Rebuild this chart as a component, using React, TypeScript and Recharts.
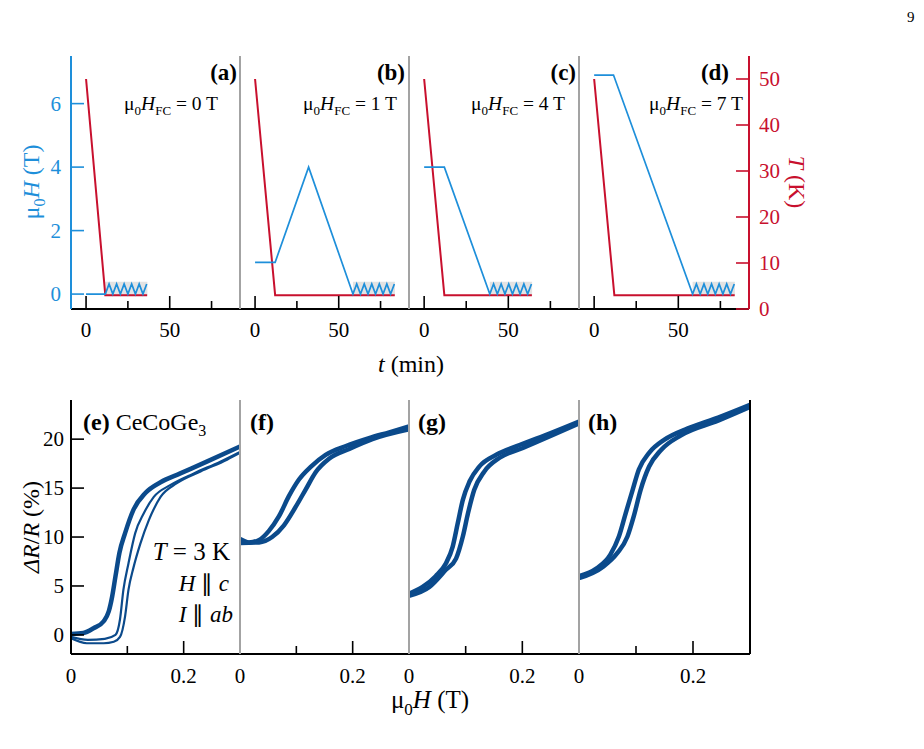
import { LineChart, Line, XAxis, YAxis, ReferenceArea } from "recharts";

const serif = "'Liberation Serif', 'Times New Roman', serif";
const BLUE = "#1e8fda";
const RED = "#c8102e";
const NAVY = "#0b4a8b";
const GRAY = "#a3a3a3";

// ---------- top row: field / temperature protocols ----------
const timeTicks = [0, 25, 50, 75];
const fieldTicks = [0, 2, 4, 6];
const tempTicks = [0, 10, 20, 30, 40, 50];
const topLabels = ["(a)", "(b)", "(c)", "(d)"];
const coolingFields = ["0", "1", "4", "7"];

const fieldA = [
  { t: 0, H: 0 },
  { t: 11.5, H: 0 },
];
const fieldB = [
  { t: 0, H: 1 },
  { t: 12, H: 1 },
  { t: 32, H: 4 },
  { t: 58.5, H: 0 },
];
const fieldC = [
  { t: 0, H: 4 },
  { t: 12, H: 4 },
  { t: 39, H: 0 },
];
const fieldD = [
  { t: 0, H: 6.9 },
  { t: 11.5, H: 6.9 },
  { t: 58.5, H: 0 },
];

const zigA = [
  { t: 11.5, H: 0 }, { t: 13.75, H: 0.32 }, { t: 16, H: 0 }, { t: 18.25, H: 0.32 },
  { t: 20.5, H: 0 }, { t: 22.75, H: 0.32 }, { t: 25, H: 0 }, { t: 27.25, H: 0.32 },
  { t: 29.5, H: 0 }, { t: 31.75, H: 0.32 }, { t: 34, H: 0 }, { t: 36.25, H: 0.32 },
];
const zigB = [
  { t: 58.5, H: 0 }, { t: 60.75, H: 0.32 }, { t: 63, H: 0 }, { t: 65.25, H: 0.32 },
  { t: 67.5, H: 0 }, { t: 69.75, H: 0.32 }, { t: 72, H: 0 }, { t: 74.25, H: 0.32 },
  { t: 76.5, H: 0 }, { t: 78.75, H: 0.32 }, { t: 81, H: 0 }, { t: 83.25, H: 0.32 },
];
const zigC = [
  { t: 39, H: 0 }, { t: 41.25, H: 0.32 }, { t: 43.5, H: 0 }, { t: 45.75, H: 0.32 },
  { t: 48, H: 0 }, { t: 50.25, H: 0.32 }, { t: 52.5, H: 0 }, { t: 54.75, H: 0.32 },
  { t: 57, H: 0 }, { t: 59.25, H: 0.32 }, { t: 61.5, H: 0 }, { t: 63.75, H: 0.32 },
];
const zigD = [
  { t: 58.5, H: 0 }, { t: 60.75, H: 0.32 }, { t: 63, H: 0 }, { t: 65.25, H: 0.32 },
  { t: 67.5, H: 0 }, { t: 69.75, H: 0.32 }, { t: 72, H: 0 }, { t: 74.25, H: 0.32 },
  { t: 76.5, H: 0 }, { t: 78.75, H: 0.32 }, { t: 81, H: 0 }, { t: 83.25, H: 0.32 },
];

const tempA = [
  { t: 0, T: 50 },
  { t: 11.5, T: 3 },
  { t: 36.5, T: 3 },
];
const tempB = [
  { t: 0, T: 50 },
  { t: 12, T: 3 },
  { t: 83.5, T: 3 },
];
const tempC = [
  { t: 0, T: 50 },
  { t: 12, T: 3 },
  { t: 64, T: 3 },
];
const tempD = [
  { t: 0, T: 50 },
  { t: 12, T: 3 },
  { t: 83.5, T: 3 },
];

// ---------- bottom row: magnetoresistance loops ----------
const fieldTicksB = [0, 0.1, 0.2];
const mrTicks = [0, 5, 10, 15, 20];
const bottomLabels = ["(e)", "(f)", "(g)", "(h)"];

const downE = [
  { B: 0, R: 0.1 }, { B: 0.022, R: 0.2 }, { B: 0.04, R: 0.68 }, { B: 0.058, R: 1.4 },
  { B: 0.067, R: 2.4 }, { B: 0.073, R: 3.9 }, { B: 0.079, R: 6.0 }, { B: 0.086, R: 8.4 },
  { B: 0.096, R: 10.4 }, { B: 0.111, R: 12.8 }, { B: 0.132, R: 14.5 }, { B: 0.159, R: 15.6 },
  { B: 0.194, R: 16.5 }, { B: 0.241, R: 17.7 }, { B: 0.3, R: 19.25 },
];
const upE1 = [
  { B: 0, R: -0.2 }, { B: 0.03, R: -0.5 }, { B: 0.06, R: -0.4 }, { B: 0.079, R: 0.0 },
  { B: 0.087, R: 1.6 }, { B: 0.093, R: 4.6 }, { B: 0.102, R: 7.3 }, { B: 0.114, R: 10.4 },
  { B: 0.129, R: 12.4 }, { B: 0.147, R: 14.1 }, { B: 0.176, R: 15.3 }, { B: 0.218, R: 16.5 },
  { B: 0.265, R: 17.7 }, { B: 0.3, R: 18.7 },
];
const upE2 = [
  { B: 0, R: -0.35 }, { B: 0.028, R: -0.85 }, { B: 0.058, R: -0.85 }, { B: 0.076, R: -0.7 },
  { B: 0.087, R: -0.2 }, { B: 0.096, R: 1.9 }, { B: 0.102, R: 4.6 }, { B: 0.111, R: 6.9 },
  { B: 0.123, R: 9.3 }, { B: 0.138, R: 11.7 }, { B: 0.159, R: 14.1 }, { B: 0.188, R: 15.5 },
  { B: 0.23, R: 16.7 }, { B: 0.277, R: 17.9 }, { B: 0.3, R: 18.6 },
];

const downF = [
  { B: 0, R: 9.8 }, { B: 0.016, R: 9.45 }, { B: 0.034, R: 9.7 }, { B: 0.051, R: 10.6 },
  { B: 0.069, R: 12.1 }, { B: 0.087, R: 14.2 }, { B: 0.105, R: 15.9 }, { B: 0.126, R: 17.2 },
  { B: 0.152, R: 18.4 }, { B: 0.188, R: 19.3 }, { B: 0.229, R: 20.1 }, { B: 0.265, R: 20.7 },
  { B: 0.3, R: 21.3 },
];
const upF = [
  { B: 0, R: 9.4 }, { B: 0.034, R: 9.45 }, { B: 0.057, R: 10.0 }, { B: 0.078, R: 11.2 },
  { B: 0.099, R: 13.1 }, { B: 0.117, R: 14.9 }, { B: 0.134, R: 16.6 }, { B: 0.158, R: 18.0 },
  { B: 0.194, R: 19.0 }, { B: 0.235, R: 20.0 }, { B: 0.3, R: 21.0 },
];

const downG = [
  { B: 0, R: 4.2 }, { B: 0.024, R: 4.9 }, { B: 0.047, R: 6.0 }, { B: 0.065, R: 7.3 },
  { B: 0.077, R: 9.0 }, { B: 0.086, R: 11.4 }, { B: 0.095, R: 13.8 }, { B: 0.107, R: 15.7 },
  { B: 0.124, R: 17.2 }, { B: 0.154, R: 18.4 }, { B: 0.195, R: 19.4 }, { B: 0.249, R: 20.6 },
  { B: 0.3, R: 21.8 },
];
const upG = [
  { B: 0, R: 4.0 }, { B: 0.036, R: 4.9 }, { B: 0.065, R: 6.65 }, { B: 0.083, R: 7.8 },
  { B: 0.095, R: 10.05 }, { B: 0.104, R: 12.4 }, { B: 0.115, R: 14.8 }, { B: 0.133, R: 16.7 },
  { B: 0.16, R: 18.1 }, { B: 0.201, R: 19.1 }, { B: 0.3, R: 21.6 },
];

const downH = [
  { B: 0, R: 6.0 }, { B: 0.031, R: 6.8 }, { B: 0.055, R: 8.2 }, { B: 0.07, R: 10.05 },
  { B: 0.082, R: 12.45 }, { B: 0.094, R: 14.8 }, { B: 0.105, R: 16.9 }, { B: 0.123, R: 18.6 },
  { B: 0.15, R: 19.95 }, { B: 0.191, R: 21.1 }, { B: 0.244, R: 22.2 }, { B: 0.3, R: 23.5 },
];
const upH = [
  { B: 0, R: 5.8 }, { B: 0.043, R: 7.0 }, { B: 0.067, R: 8.35 }, { B: 0.085, R: 10.05 },
  { B: 0.096, R: 12.1 }, { B: 0.108, R: 14.8 }, { B: 0.123, R: 17.2 }, { B: 0.144, R: 18.9 },
  { B: 0.179, R: 20.4 }, { B: 0.244, R: 21.9 }, { B: 0.3, R: 23.3 },
];

// ---------- layout ----------
const panelLefts = [71, 240, 409, 579];
const topRight = 749;
const bottomRight = 750;
const PADL = 45; // left axis area of every small chart
const PADR = 12;

// custom ticks (inward ticks, labels outside)
function bottomTick(opts: { majorLen: number; minorLen: number; labelled: number[]; skipLine?: number[]; dy: number }) {
  return (props: any) => {
    const { x, y, payload } = props;
    const v = payload.value;
    const isLab = opts.labelled.includes(v);
    const len = isLab ? opts.majorLen : opts.minorLen;
    const noLine = opts.skipLine && opts.skipLine.includes(v);
    return (
      <g>
        {!noLine && <line x1={x} x2={x} y1={y} y2={y - len} stroke="#000" strokeWidth={1.6} />}
        {isLab && (
          <text x={x} y={y + opts.dy} textAnchor="middle" fontSize={21} fontFamily={serif} fill="#000">
            {v}
          </text>
        )}
      </g>
    );
  };
}

function leftTick(color: string, gap: number) {
  return (props: any) => {
    const { x, y, payload } = props;
    return (
      <g>
        <line x1={x} x2={x + 13} y1={y} y2={y} stroke={color} strokeWidth={1.6} />
        <text x={x - gap} y={y + 7} textAnchor="end" fontSize={21} fontFamily={serif} fill={color}>
          {payload.value}
        </text>
      </g>
    );
  };
}

function rightTick(color: string, gap: number) {
  return (props: any) => {
    const { x, y, payload } = props;
    return (
      <g>
        <line x1={x} x2={x - 13} y1={y} y2={y} stroke={color} strokeWidth={1.6} />
        <text x={x + gap} y={y + 7} textAnchor="start" fontSize={21} fontFamily={serif} fill={color}>
          {payload.value}
        </text>
      </g>
    );
  };
}

const topTimeTick = bottomTick({ majorLen: 13, minorLen: 8, labelled: [0, 50], dy: 28 });
const bottomFieldTick = bottomTick({ majorLen: 13, minorLen: 8, labelled: [0, 0.2], skipLine: [0], dy: 29 });

const tDomain = [-9, 92];
const hDomain = [-0.47, 7.5];
const TDomain = [0, 55];

function TopPanel({ i, field, zig, temp }: { i: number; field: any[]; zig: any[]; temp: any[] }) {
  const plotLeft = panelLefts[i];
  const plotRight = i < 3 ? panelLefts[i + 1] : topRight;
  const rightW = i === 3 ? 60 : PADR;
  const w = plotRight - plotLeft + PADL + rightW;
  const zStart = zig[0].t;
  const zEnd = zig[zig.length - 1].t;
  return (
    <div style={{ position: "absolute", left: plotLeft - PADL, top: 46 }}>
      <LineChart width={w} height={310} margin={{ top: 10, right: 0, bottom: 0, left: 0 }}>
        <XAxis
          xAxisId="top"
          orientation="top"
          type="number"
          dataKey="t"
          domain={tDomain}
          height={0}
          tick={false}
          tickLine={false}
          axisLine={{ stroke: "#000", strokeWidth: 2 }}
        />
        <XAxis
          type="number"
          dataKey="t"
          domain={tDomain}
          ticks={timeTicks}
          interval={0}
          height={47}
          tickSize={0}
          tickMargin={0}
          tickLine={false}
          tick={topTimeTick}
          axisLine={{ stroke: "#000", strokeWidth: 2 }}
        />
        <YAxis
          yAxisId="H"
          type="number"
          domain={hDomain}
          ticks={fieldTicks}
          interval={0}
          width={PADL}
          tickSize={0}
          tickMargin={0}
          tickLine={false}
          tick={i === 0 ? leftTick(BLUE, 10) : false}
          axisLine={{ stroke: i === 0 ? BLUE : GRAY, strokeWidth: 2 }}
        />
        <YAxis
          yAxisId="T"
          orientation="right"
          type="number"
          domain={TDomain}
          ticks={tempTicks}
          interval={0}
          width={rightW}
          tickSize={0}
          tickMargin={0}
          tickLine={false}
          tick={i === 3 ? rightTick(RED, 10) : false}
          axisLine={i === 3 ? { stroke: RED, strokeWidth: 2 } : false}
        />
        <ReferenceArea yAxisId="H" x1={zStart} x2={zEnd + 0.4} y1={-0.06} y2={0.39} fill="#e3e3e3" fillOpacity={1} stroke="none" />
        <Line yAxisId="T" data={temp} dataKey="T" type="linear" stroke={RED} strokeWidth={2} dot={false} isAnimationActive={false} />
        <Line yAxisId="H" data={field.concat(zig)} dataKey="H" type="linear" stroke={BLUE} strokeWidth={1.7} dot={false} isAnimationActive={false} />
      </LineChart>
    </div>
  );
}

const bDomain = [0, 0.3];
const rDomain = [-1.95, 24];

function BottomPanel({ i, loops, thin }: { i: number; loops: any[][]; thin?: any[][] }) {
  const plotLeft = panelLefts[i];
  const plotRight = i < 3 ? panelLefts[i + 1] : bottomRight;
  const w = plotRight - plotLeft + PADL + PADR;
  return (
    <div style={{ position: "absolute", left: plotLeft - PADL, top: 390 }}>
      <LineChart width={w} height={310} margin={{ top: 10, right: 0, bottom: 0, left: 0 }}>
        <XAxis
          xAxisId="top"
          orientation="top"
          type="number"
          dataKey="B"
          domain={bDomain}
          height={0}
          tick={false}
          tickLine={false}
          axisLine={{ stroke: "#000", strokeWidth: 2 }}
        />
        <XAxis
          type="number"
          dataKey="B"
          domain={bDomain}
          ticks={fieldTicksB}
          interval={0}
          height={46}
          tickSize={0}
          tickMargin={0}
          tickLine={false}
          tick={bottomFieldTick}
          axisLine={{ stroke: "#000", strokeWidth: 2 }}
        />
        <YAxis
          yAxisId="R"
          type="number"
          domain={rDomain}
          ticks={mrTicks}
          interval={0}
          width={PADL}
          tickSize={0}
          tickMargin={0}
          tickLine={false}
          tick={i === 0 ? leftTick("#000", 7) : false}
          axisLine={{ stroke: i === 0 ? "#000" : GRAY, strokeWidth: 2 }}
        />
        <YAxis
          yAxisId="frame"
          orientation="right"
          type="number"
          domain={rDomain}
          width={PADR}
          tick={false}
          tickLine={false}
          axisLine={i === 3 ? { stroke: "#000", strokeWidth: 2 } : false}
        />
        {loops.map((d, k) => (
          <Line key={"l" + k} yAxisId="R" data={d} dataKey="R" type="monotone" stroke={NAVY} strokeWidth={4.5} dot={false} isAnimationActive={false} />
        ))}
        {(thin || []).map((d, k) => (
          <Line key={"t" + k} yAxisId="R" data={d} dataKey="R" type="monotone" stroke={NAVY} strokeWidth={2.2} dot={false} isAnimationActive={false} />
        ))}
      </LineChart>
    </div>
  );
}

function Sub({ children, size }: { children: any; size: number }) {
  return (
    <tspan fontSize={size} dy={size * 0.4}>
      {children}
    </tspan>
  );
}

function Overlay() {
  const fcEnds = [218, 397, 565, 743];
  const topLabEnds = [237, 405, 576, 729];
  const botLabX = [83, 250, 418, 588];
  return (
    <svg width={924} height={749} style={{ position: "absolute", left: 0, top: 0, pointerEvents: "none" }} fontFamily={serif}>
      <text x={907} y={22} fontSize={15} fill="#000">9</text>
      {topLabels.map((l, k) => (
        <text key={l} x={topLabEnds[k]} y={80} textAnchor="end" fontSize={23} fontWeight="bold" fill="#000">
          {l}
        </text>
      ))}
      {coolingFields.map((f, k) => (
        <text key={f} x={fcEnds[k]} y={110} textAnchor="end" fontSize={19.5} fill="#000">
          μ<Sub size={13}>0</Sub>
          <tspan dy={-5.2} fontStyle="italic">H</tspan>
          <Sub size={13}>FC</Sub>
          <tspan dy={-5.2}>{" = " + f + " T"}</tspan>
        </text>
      ))}
      <text transform="translate(39,182) rotate(-90)" textAnchor="middle" fontSize={24} fill={BLUE}>
        μ<Sub size={16}>0</Sub>
        <tspan dy={-6.4} fontStyle="italic">H</tspan>
        <tspan> (T)</tspan>
      </text>
      <text transform="translate(789,182) rotate(90)" textAnchor="middle" fontSize={24} fill={RED}>
        <tspan fontStyle="italic">T</tspan>
        <tspan> (K)</tspan>
      </text>
      <text x={411} y={372} textAnchor="middle" fontSize={24} fill="#000">
        <tspan fontStyle="italic">t</tspan>
        <tspan> (min)</tspan>
      </text>

      {bottomLabels.map((l, k) => (
        <text key={l} x={botLabX[k]} y={430} fontSize={24} fill="#000">
          <tspan fontWeight="bold">{l}</tspan>
          {k === 0 && (
            <>
              <tspan>{" CeCoGe"}</tspan>
              <Sub size={16}>3</Sub>
            </>
          )}
        </text>
      ))}
      <text x={230} y={560} textAnchor="end" fontSize={25} fill="#000">
        <tspan fontStyle="italic">T</tspan>
        <tspan> = 3 K</tspan>
      </text>
      <text x={229} y={591} textAnchor="end" fontSize={23} fill="#000">
        <tspan fontStyle="italic">H</tspan>
        <tspan> ∥ </tspan>
        <tspan fontStyle="italic">c</tspan>
      </text>
      <text x={233} y={622} textAnchor="end" fontSize={23} fill="#000">
        <tspan fontStyle="italic">I</tspan>
        <tspan> ∥ </tspan>
        <tspan fontStyle="italic">ab</tspan>
      </text>
      <text x={430} y={708} textAnchor="middle" fontSize={25} fill="#000">
        μ<Sub size={17}>0</Sub>
        <tspan dy={-6.8} fontStyle="italic">H</tspan>
        <tspan> (T)</tspan>
      </text>
      <text transform="translate(39,527) rotate(-90)" textAnchor="middle" fontSize={24} fill="#000">
        <tspan fontStyle="italic">ΔR</tspan>
        <tspan>/</tspan>
        <tspan fontStyle="italic">R</tspan>
        <tspan> (%)</tspan>
      </text>
    </svg>
  );
}

export default function App() {
  return (
    <div style={{ position: "absolute", left: 0, top: 0, width: 924, height: 749, background: "#fff", overflow: "hidden" }}>
      <TopPanel i={0} field={fieldA} zig={zigA} temp={tempA} />
      <TopPanel i={1} field={fieldB} zig={zigB} temp={tempB} />
      <TopPanel i={2} field={fieldC} zig={zigC} temp={tempC} />
      <TopPanel i={3} field={fieldD} zig={zigD} temp={tempD} />
      <BottomPanel i={0} loops={[downE]} thin={[upE1, upE2]} />
      <BottomPanel i={1} loops={[downF, upF]} />
      <BottomPanel i={2} loops={[downG, upG]} />
      <BottomPanel i={3} loops={[downH, upH]} />
      <Overlay />
    </div>
  );
}
